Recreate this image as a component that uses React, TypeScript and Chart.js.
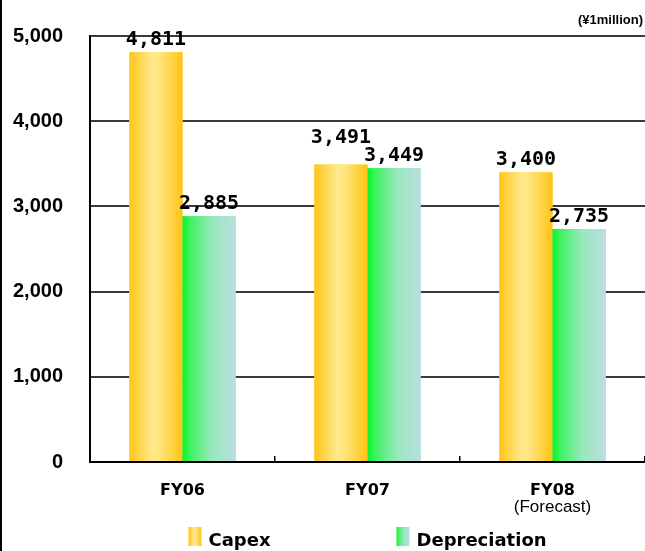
import React, { useEffect, useRef } from "react";
import { Chart, registerables } from "chart.js";

Chart.register(...registerables);

// Fiscal years and values (¥1 million)
const categories = ["FY06", "FY07", "FY08"];
const capex = [4811, 3491, 3400];
const depreciation = [2885, 3449, 2735];
const seriesNames = ["Capex", "Depreciation"];
const seriesBase = ["#FFD54A", "#7EEA9A"];
const yTickValues = [0, 1000, 2000, 3000, 4000, 5000];
const unitLabel = "(¥1million)";
const forecastNote = "(Forecast)";
const forecastIndex = 2;

const GRID_COLOR = "#3a3a3a";
const fmt = (v: number) => v.toLocaleString("en-US");

function barGradient(ctx: CanvasRenderingContext2D, series: number, x0: number, x1: number) {
  const g = ctx.createLinearGradient(x0, 0, x1, 0);
  if (series === 0) {
    g.addColorStop(0, "#FFC518");
    g.addColorStop(0.42, "#FFE98C");
    g.addColorStop(0.55, "#FFE683");
    g.addColorStop(1, "#FFC412");
  } else {
    g.addColorStop(0, "#08F526");
    g.addColorStop(0.15, "#3EF262");
    g.addColorStop(0.55, "#97E8BB");
    g.addColorStop(1, "#BADEE1");
  }
  return g;
}

const LABEL_GAP = 7;
const LABEL_HEIGHT = 16;

const decorPlugin = {
  id: "decor",
  afterDatasetsDraw(chart: any) {
    const ctx = chart.ctx as CanvasRenderingContext2D;
    ctx.save();

    // shade each bar with its horizontal gradient, using the bar geometry
    chart.data.datasets.forEach((_ds: any, i: number) => {
      chart.getDatasetMeta(i).data.forEach((bar: any) => {
        const x0 = bar.x - bar.width / 2;
        const top = Math.min(bar.y, bar.base);
        ctx.fillStyle = barGradient(ctx, i, x0, x0 + bar.width);
        ctx.fillRect(x0, top, bar.width, Math.abs(bar.base - bar.y));
      });
    });

    // value labels
    ctx.fillStyle = "#000";
    ctx.font = "bold 20px 'DejaVu Sans Mono'";
    ctx.textAlign = "center";
    ctx.textBaseline = "alphabetic";
    const metaA = chart.getDatasetMeta(0).data;
    const metaB = chart.getDatasetMeta(1).data;
    categories.forEach((_c, j) => {
      const a = metaA[j];
      const b = metaB[j];
      const baseB = b.y - LABEL_GAP;
      let baseA = a.y - LABEL_GAP;
      // neighbouring labels overlap horizontally, so keep the first one above the second
      if (Math.abs(baseA - baseB) < LABEL_HEIGHT + 4) {
        baseA = Math.min(baseA, baseB - LABEL_HEIGHT - 2);
      }
      ctx.fillText(fmt(capex[j]), a.x, baseA);
      ctx.fillText(fmt(depreciation[j]), b.x, baseB);
    });
    ctx.restore();
  },
  afterDraw(chart: any) {
    const ctx = chart.ctx as CanvasRenderingContext2D;
    const area = chart.chartArea;
    const xScale = chart.scales.x;
    ctx.save();

    // frame line on the left edge
    ctx.fillStyle = "#000";
    ctx.fillRect(0, 0, 2, chart.height);

    // unit caption
    ctx.font = "bold 13px 'Liberation Sans'";
    ctx.textAlign = "right";
    ctx.textBaseline = "alphabetic";
    ctx.fillText(unitLabel, 643, 24);

    // second line under the forecast year
    ctx.font = "17px 'Liberation Sans'";
    ctx.textAlign = "center";
    ctx.textBaseline = "top";
    ctx.fillText(forecastNote, xScale.getPixelForValue(forecastIndex), 499);

    // legend
    ctx.font = "bold 18px 'DejaVu Sans'";
    const boxW = 13;
    const boxH = 19;
    const textGap = 7;
    const itemGap = 126;
    const widths = seriesNames.map((n) => boxW + textGap + ctx.measureText(n).width);
    const total = widths.reduce((a, b) => a + b, 0) + itemGap * (widths.length - 1);
    let x = (area.left + area.right) / 2 - total / 2;
    const baseY = 546;
    ctx.textAlign = "left";
    ctx.textBaseline = "alphabetic";
    seriesNames.forEach((name, i) => {
      ctx.fillStyle = barGradient(ctx, i, x, x + boxW);
      ctx.fillRect(x, baseY - boxH, boxW, boxH);
      ctx.fillStyle = "#000";
      ctx.fillText(name, x + boxW + textGap, baseY);
      x += widths[i] + itemGap;
    });
    ctx.restore();
  },
};

export default function App() {
  const canvasRef = useRef<HTMLCanvasElement | null>(null);

  useEffect(() => {
    if (!canvasRef.current) return;
    const chart = new Chart(canvasRef.current, {
      type: "bar",
      data: {
        labels: categories,
        datasets: [
          { label: seriesNames[0], data: capex, backgroundColor: seriesBase[0], borderWidth: 0 },
          { label: seriesNames[1], data: depreciation, backgroundColor: seriesBase[1], borderWidth: 0 },
        ],
      },
      options: {
        responsive: false,
        animation: false,
        devicePixelRatio: 1,
        // the plot runs on past the right edge of the canvas
        layout: { padding: { top: 36, right: -15, left: 0, bottom: 0 } },
        datasets: { bar: { categoryPercentage: 0.574, barPercentage: 1 } },
        plugins: {
          legend: { display: false },
          tooltip: { enabled: false },
        },
        scales: {
          x: {
            grid: {
              display: true,
              drawOnChartArea: false,
              drawTicks: true,
              tickLength: -6,
              color: "#000",
              lineWidth: 1.5,
            },
            border: { display: true, color: "#000", width: 2 },
            ticks: {
              color: "#000",
              padding: 25,
              font: { family: "'DejaVu Sans'", weight: "bold", size: 16 },
            },
            afterFit(scale: any) {
              scale.height = 89;
              scale.paddingLeft = 0;
              scale.paddingRight = 0;
            },
          },
          y: {
            min: 0,
            max: 5000,
            afterBuildTicks(scale: any) {
              scale.ticks = yTickValues.map((v) => ({ value: v }));
            },
            grid: { color: GRID_COLOR, lineWidth: 2, drawTicks: false },
            border: { display: true, color: "#000", width: 2 },
            ticks: {
              color: "#000",
              padding: 27,
              font: { family: "'Liberation Sans'", weight: "bold", size: 20 },
              callback: (v: any) => fmt(Number(v)),
            },
            afterFit(scale: any) {
              scale.width = 90;
              scale.paddingTop = 0;
              scale.paddingBottom = 0;
            },
          },
        },
      },
      plugins: [decorPlugin],
    });
    return () => chart.destroy();
  }, []);

  return (
    <div
      style={{
        position: "absolute",
        left: 0,
        top: 0,
        width: 645,
        height: 551,
        overflow: "hidden",
        background: "#fff",
      }}
    >
      <canvas ref={canvasRef} width={645} height={551} style={{ width: 645, height: 551, display: "block" }} />
    </div>
  );
}
